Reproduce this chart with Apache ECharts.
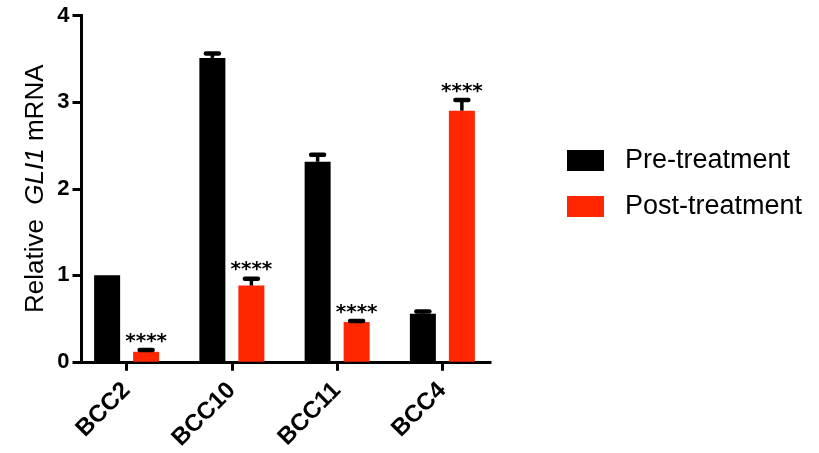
<!DOCTYPE html>
<html>
<head>
<meta charset="utf-8">
<script src="https://cdn.jsdelivr.net/npm/echarts@6/dist/echarts.min.js"></script>
<style>
html,body{margin:0;padding:0;background:#fff;}
#c{width:819px;height:453px;}
</style>
</head>
<body>
<div id="c"></div>
<script>
// ---- data ----
var categories = ['BCC2', 'BCC10', 'BCC11', 'BCC4'];
var preMean  = [1.00, 3.51, 2.31, 0.555];
var preErr   = [0.00, 0.05, 0.08, 0.025];
var postMean = [0.115, 0.88, 0.46, 2.90];
var postErr  = [0.02, 0.08, 0.01, 0.125];
var postSig  = ['****', '****', '****', '****'];
var yTicks   = [0, 1, 2, 3, 4];
var seriesNames = ['Pre-treatment', 'Post-treatment'];

var BLACK = '#000000', RED = '#FF2600';
var FONT = 'Liberation Sans, Arial, Helvetica, sans-serif';
var BAR_W = 26, HALF_OFF = 19.5;

function errData(mean, err, sig) {
  return mean.map(function (m, i) { return [i, m, err[i], sig ? sig[i] : '']; });
}

function makeErrRender(offset) {
  return function (params, api) {
    var i = api.value(0), m = api.value(1), e = api.value(2);
    var sig = api.value(3);
    var base = api.coord([i, m]);
    var top = api.coord([i, m + e]);
    var x = base[0] + offset;
    var children = [];
    if (e > 0) {
      children.push({ type: 'line', shape: { x1: x, y1: base[1], x2: x, y2: top[1] },
        style: { stroke: BLACK, lineWidth: 3.5 } });
      children.push({ type: 'line', shape: { x1: x - 6.5, y1: top[1], x2: x + 6.5, y2: top[1] },
        style: { stroke: BLACK, lineWidth: 4.5, lineCap: 'round' } });
    }
    if (sig && sig !== '' && sig !== '-') {
      children.push({ type: 'text', x: x, y: top[1] - 8.5,
        style: { text: String(sig), align: 'center', verticalAlign: 'middle',
          font: 'bold 20px "DejaVu Sans", sans-serif', fill: BLACK } });
    }
    return { type: 'group', children: children };
  };
}

var chart = echarts.init(document.getElementById('c'), null, { renderer: 'canvas' });
chart.setOption({
  animation: false,
  backgroundColor: '#fff',
  grid: [
    { left: 74, width: 421, top: 15.5, height: 346.5 },
    { left: 81.5, width: 408.5, top: 15.5, height: 346.5 }
  ],
  legend: {
    orient: 'vertical', left: 567, top: 147, padding: 0,
    itemWidth: 37, itemHeight: 21, itemGap: 19, icon: 'rect',
    data: seriesNames,
    textStyle: { fontFamily: FONT, fontSize: 27, color: '#000', padding: [0, 0, 0, 16] }
  },
  xAxis: [
    { type: 'category', gridIndex: 0, data: categories,
      axisLine: { show: false },
      axisTick: { show: true, alignWithLabel: true, length: 9, lineStyle: { color: BLACK, width: 3 } },
      axisLabel: { rotate: 45, fontFamily: FONT, fontWeight: 'bold', fontSize: 24, color: '#000', margin: 25 },
      splitLine: { show: false } },
    { type: 'value', gridIndex: 1, min: 0, max: 1,
      axisLine: { show: true, onZero: false, lineStyle: { color: BLACK, width: 3, cap: 'square' } },
      axisTick: { show: false }, axisLabel: { show: false }, splitLine: { show: false } }
  ],
  yAxis: [
    { type: 'value', gridIndex: 0, min: yTicks[0], max: yTicks[yTicks.length - 1], show: false },
    { type: 'value', gridIndex: 1, min: yTicks[0], max: yTicks[yTicks.length - 1], interval: 1,
      axisLine: { show: true, lineStyle: { color: BLACK, width: 3, cap: 'square' } },
      axisTick: { show: true, length: 9, lineStyle: { color: BLACK, width: 3 } },
      axisLabel: { fontFamily: FONT, fontWeight: 'bold', fontSize: 22, color: '#000', margin: 12 },
      splitLine: { show: false },
      name: 'Relative  {i|GLI1} mRNA', nameLocation: 'middle', nameGap: 33,
      nameTextStyle: { fontFamily: FONT, fontSize: 26, color: '#000',
        rich: { i: { fontFamily: FONT, fontSize: 26, fontStyle: 'italic', color: '#000' } } } }
  ],
  series: [
    { name: seriesNames[0], type: 'bar', xAxisIndex: 0, yAxisIndex: 0, data: preMean,
      barWidth: BAR_W, barGap: '50%', itemStyle: { color: BLACK }, emphasis: { disabled: true } },
    { name: seriesNames[1], type: 'bar', xAxisIndex: 0, yAxisIndex: 0, data: postMean,
      barWidth: BAR_W, barGap: '50%', itemStyle: { color: RED }, emphasis: { disabled: true } },
    { type: 'custom', xAxisIndex: 0, yAxisIndex: 0, z: 5, silent: true,
      renderItem: makeErrRender(-HALF_OFF), data: errData(preMean, preErr, null) },
    { type: 'custom', xAxisIndex: 0, yAxisIndex: 0, z: 5, silent: true,
      renderItem: makeErrRender(HALF_OFF), data: errData(postMean, postErr, postSig) }
  ]
});
</script>
</body>
</html>
